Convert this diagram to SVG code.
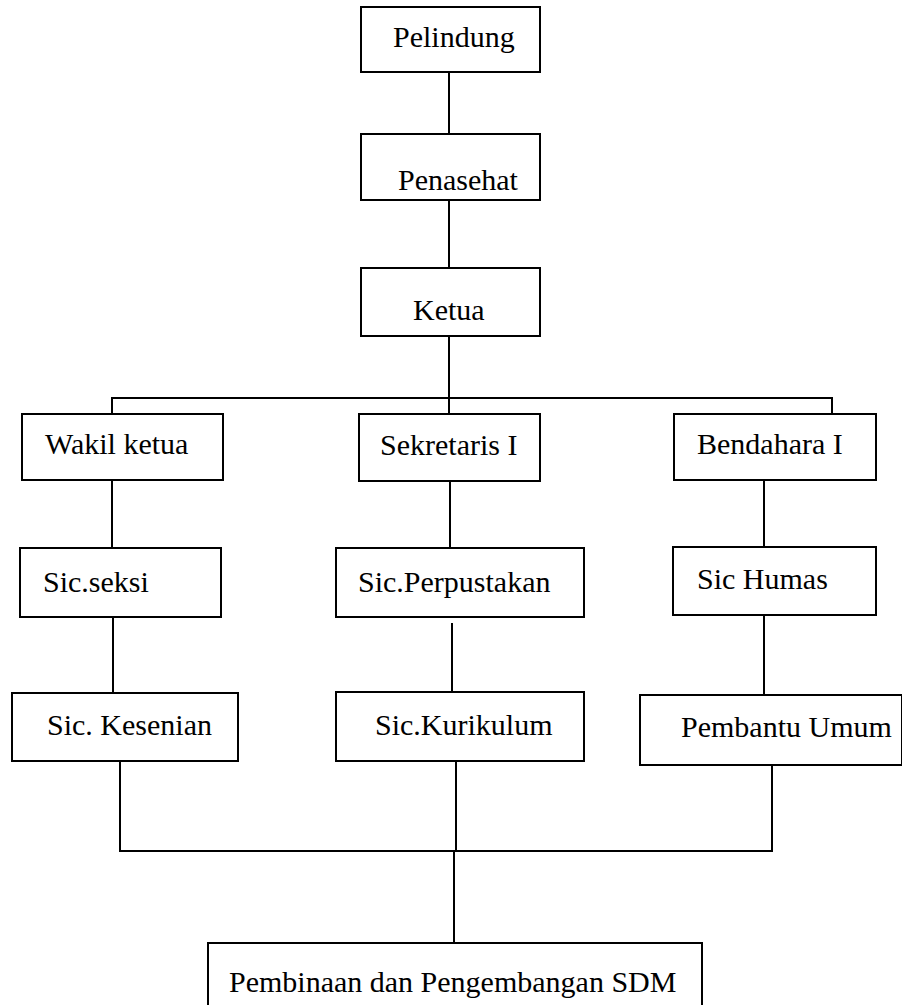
<svg xmlns="http://www.w3.org/2000/svg" width="902" height="1005" viewBox="0 0 902 1005">
<style>
.box{fill:#fff;stroke:#000;stroke-width:2}
.lbl{font-family:"Liberation Serif","Times New Roman",serif;font-size:30px;fill:#000}
.ln{stroke:#000;stroke-width:2;fill:none}
</style>
<rect width="902" height="1005" fill="#fff"/>
<g id="connectors">
<line class="ln" x1="449" y1="72" x2="449" y2="134"/>
<line class="ln" x1="449" y1="200" x2="449" y2="268"/>
<line class="ln" x1="449" y1="336" x2="449" y2="414"/>
<polyline class="ln" points="112,414 112,398 832,398 832,414"/>
<line class="ln" x1="112" y1="480" x2="112" y2="548"/>
<line class="ln" x1="450" y1="481" x2="450" y2="548"/>
<line class="ln" x1="764" y1="480" x2="764" y2="547"/>
<line class="ln" x1="113" y1="617" x2="113" y2="693"/>
<line class="ln" x1="452" y1="623" x2="452" y2="692"/>
<line class="ln" x1="764" y1="615" x2="764" y2="695"/>
<polyline class="ln" points="120,761 120,851 772,851 772,760"/>
<line class="ln" x1="456" y1="761" x2="456" y2="851"/>
<line class="ln" x1="454" y1="851" x2="454" y2="943"/>
</g>
<g id="pelindung"><rect class="box" x="361" y="7" width="179" height="65"/><text class="lbl" x="393" y="47">Pelindung</text></g>
<g id="penasehat"><rect class="box" x="361" y="134" width="179" height="66"/><text class="lbl" x="398" y="190">Penasehat</text></g>
<g id="ketua"><rect class="box" x="361" y="268" width="179" height="68"/><text class="lbl" x="413" y="320">Ketua</text></g>
<g id="wakil-ketua"><rect class="box" x="22" y="414" width="201" height="66"/><text class="lbl" x="45" y="454">Wakil ketua</text></g>
<g id="sekretaris"><rect class="box" x="359" y="414" width="181" height="67"/><text class="lbl" x="380" y="455">Sekretaris I</text></g>
<g id="bendahara"><rect class="box" x="674" y="414" width="202" height="66"/><text class="lbl" x="697" y="454">Bendahara I</text></g>
<g id="sic-seksi"><rect class="box" x="20" y="548" width="201" height="69"/><text class="lbl" x="43" y="592">Sic.seksi</text></g>
<g id="sic-perpustakan"><rect class="box" x="336" y="548" width="248" height="69"/><text class="lbl" x="358" y="592">Sic.Perpustakan</text></g>
<g id="sic-humas"><rect class="box" x="673" y="547" width="203" height="68"/><text class="lbl" x="697" y="589">Sic Humas</text></g>
<g id="sic-kesenian"><rect class="box" x="12" y="693" width="226" height="68"/><text class="lbl" x="47" y="735">Sic. Kesenian</text></g>
<g id="sic-kurikulum"><rect class="box" x="336" y="692" width="248" height="69"/><text class="lbl" x="375" y="735">Sic.Kurikulum</text></g>
<g id="pembantu-umum"><rect class="box" x="640" y="695" width="262" height="70"/><text class="lbl" x="681" y="737">Pembantu Umum</text></g>
<g id="pembinaan"><rect class="box" x="208" y="943" width="494" height="70"/><text class="lbl" x="229" y="992">Pembinaan dan Pengembangan SDM</text></g>
</svg>
